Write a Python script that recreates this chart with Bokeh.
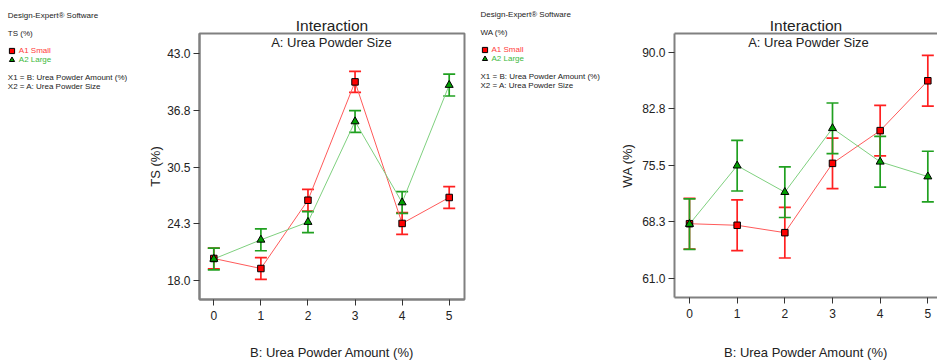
from bokeh.plotting import figure
from bokeh.models import (Range1d, FixedTicker, Label, Legend, LegendItem, Whisker, TeeHead,
                          ColumnDataSource, LinearAxis, PrintfTickFormatter)
from bokeh.core.properties import value
from bokeh.layouts import row, column
from bokeh.embed import file_html
from bokeh.resources import INLINE

# ---------------- data ----------------
X_AMOUNT = [0, 1, 2, 3, 4, 5]
X_TICK_LABELS = ["0", "1", "2", "3", "4", "5"]

TS_SMALL = [20.45, 19.35, 26.85, 39.85, 24.3, 27.15]
TS_LARGE = [20.4, 22.5, 24.45, 35.5, 26.6, 39.5]
TS_SMALL_ERR = [1.15, 1.2, 1.2, 1.15, 1.2, 1.2]
TS_LARGE_ERR = [1.2, 1.2, 1.15, 1.2, 1.2, 1.2]
TS_TICKS = [18.0, 24.25, 30.5, 36.75, 43.0]
TS_TICK_LABELS = ["18.0", "24.3", "30.5", "36.8", "43.0"]

WA_SMALL = [68.0, 67.8, 66.85, 75.75, 79.95, 86.35]
WA_LARGE = [67.95, 75.45, 72.05, 80.25, 75.95, 74.05]
WA_SMALL_ERR = [3.25, 3.25, 3.25, 3.25, 3.25, 3.25]
WA_LARGE_ERR = [3.25, 3.25, 3.25, 3.25, 3.25, 3.25]
WA_TICKS = [61.0, 68.25, 75.5, 82.75, 90.0]
WA_TICK_LABELS = ["61.0", "68.3", "75.5", "82.8", "90.0"]

SERIES_NAMES = ["A1 Small", "A2 Large"]
X_TITLE = "B: Urea Powder Amount (%)"
FACTOR_TITLE = "A: Urea Powder Size"

FONT = "Liberation Sans"
RED_LINE, GREEN_LINE = "#ff5a5a", "#7fd07f"
RED_BAR, GREEN_BAR = "#ff2020", "#20a020"
RED_FILL, GREEN_FILL = "#ff0000", "#00a000"
RED_TEXT, GREEN_TEXT = "#ff3b3b", "#3cb83c"
FRAME = "#808080"
TXT = "#222222"
H = 362


def info_panel(width, bx, lines_y, gx, gy, response, small, large):
    """Design-Expert text block; coordinates are page pixels (y measured from the top)."""
    p = figure(width=width, height=H, x_range=Range1d(0, width), y_range=Range1d(0, H),
               x_axis_type=None, y_axis_type=None, output_backend="svg",
               toolbar_location=None, title=None,
               min_border_left=0, min_border_right=0, min_border_top=0, min_border_bottom=0)
    p.outline_line_color = None
    p.grid.visible = False
    texts = ["Design-Expert\u00ae Software", response,
             "X1 = " + X_TITLE, "X2 = " + FACTOR_TITLE]
    p.text(x=[bx] * 4, y=[H - v for v in lines_y], text=texts, text_font=value(FONT),
           text_font_size=value("8px"), text_color=TXT, text_baseline="middle",
           text_align="left")
    gsz = 13
    # hidden series renderers: only their legend keys are shown in this panel
    rs = p.scatter(x=X_AMOUNT, y=small, marker="square", size=6, fill_color=RED_FILL,
                   line_color="black", line_width=1, visible=False)
    gs = p.scatter(x=X_AMOUNT, y=large, marker="triangle", size=7, fill_color=GREEN_FILL,
                   line_color="black", line_width=1, visible=False)
    for rend, name, col, gyc in ((rs, SERIES_NAMES[0], RED_TEXT, gy[0]),
                                 (gs, SERIES_NAMES[1], GREEN_TEXT, gy[1])):
        lx = gx - gsz / 2
        ly = H - (gyc - gsz / 2) - gsz
        leg = Legend(items=[LegendItem(label=name, renderers=[rend], index=0)],
                     location=(lx, ly), click_policy="none",
                     orientation="vertical", label_text_font=FONT, label_text_font_size="8px",
                     label_text_color=col, glyph_width=gsz, glyph_height=gsz,
                     label_standoff=1, label_height=9, padding=0, margin=0, spacing=0,
                     border_line_color=None, background_fill_alpha=0,
                     inactive_fill_alpha=0)
        p.add_layout(leg)
    return p


def chart(left, width, frame, xr, yr, ticks, tick_labels, small, large, serr, lerr,
          ylab, ylab_standoff, xlab_standoff, sub_pos, right_border=True):
    fl, fr, ft, fb = frame  # page pixels
    p = figure(width=width, height=H, x_range=Range1d(*xr), y_range=Range1d(*yr),
               output_backend="svg", toolbar_location=None, title="Interaction",
               min_border_left=fl - left, min_border_right=left + width - fr,
               min_border_top=ft, min_border_bottom=H - fb)
    p.background_fill_color = "white"
    p.border_fill_color = "white"
    p.grid.visible = False
    p.title.align = "center"
    p.title.text_font = FONT
    p.title.text_font_size = "15.5px"
    p.title.text_font_style = "normal"
    p.title.text_color = TXT
    p.title.standoff = 0

    ppx = (fr - fl) / (xr[1] - xr[0])
    ppy = (fb - ft) / (yr[1] - yr[0])

    p.xaxis.ticker = FixedTicker(ticks=X_AMOUNT)
    p.xaxis.major_label_overrides = dict(zip(X_AMOUNT, X_TICK_LABELS))
    p.yaxis.ticker = FixedTicker(ticks=ticks)
    p.yaxis.formatter = PrintfTickFormatter(format="%.1f")
    p.yaxis.major_label_overrides = dict(zip(ticks, tick_labels))
    for ax in (p.xaxis, p.yaxis):
        ax.axis_line_color = FRAME
        ax.axis_line_width = 2
        ax.major_tick_line_color = "#333333"
        ax.major_tick_in = 0
        ax.major_tick_out = 6
        ax.minor_tick_line_color = None
        ax.major_label_text_font = FONT
        ax.major_label_text_font_size = "12px"
        ax.major_label_text_color = TXT
        ax.axis_label_text_font = FONT
        ax.axis_label_text_font_size = "13px"
        ax.axis_label_text_font_style = "normal"
        ax.axis_label_text_color = TXT
    p.xaxis.major_label_standoff = 5
    p.yaxis.major_label_standoff = 3
    p.xaxis.axis_label = X_TITLE
    p.xaxis.axis_label_standoff = xlab_standoff
    p.yaxis.axis_label = ylab
    p.yaxis.axis_label_standoff = ylab_standoff

    if right_border:
        p.outline_line_color = FRAME
        p.outline_line_width = 2
    else:
        p.outline_line_color = None
        top = LinearAxis(ticker=FixedTicker(ticks=[]), axis_line_color=FRAME, axis_line_width=2,
                         major_tick_line_color=None, minor_tick_line_color=None,
                         major_label_text_font_size="0px")
        p.add_layout(top, "above")

    for vals, errs, col in ((small, serr, RED_BAR), (large, lerr, GREEN_BAR)):
        src = ColumnDataSource(dict(x=X_AMOUNT,
                                    upper=[v + e for v, e in zip(vals, errs)],
                                    lower=[v - e for v, e in zip(vals, errs)]))
        p.add_layout(Whisker(source=src, base="x", upper="upper", lower="lower",
                             line_color=col, line_width=1.7,
                             upper_head=TeeHead(size=12, line_color=col, line_width=1.7),
                             lower_head=TeeHead(size=12, line_color=col, line_width=1.7)))

    p.line(X_AMOUNT, small, line_color=RED_LINE, line_width=1)
    p.line(X_AMOUNT, large, line_color=GREEN_LINE, line_width=1)
    p.scatter(X_AMOUNT, small, marker="square", size=6.5, fill_color=RED_FILL,
              line_color="black", line_width=1)
    p.scatter(X_AMOUNT, large, marker="triangle", size=8, fill_color=GREEN_FILL,
              line_color="black", line_width=1)

    sx = xr[0] + (sub_pos[0] - fl) / ppx
    sy = yr[0] + (fb - sub_pos[1]) / ppy
    p.add_layout(Label(x=sx, y=sy, text=FACTOR_TITLE, text_font=FONT, text_font_size="13px",
                       text_color=TXT, text_align="center", text_baseline="middle"))
    return p


t1 = info_panel(145, 7.3, [15, 32.7, 76.7, 85.7], 11.3, (50, 59.3), "TS (%)",
                TS_SMALL, TS_LARGE)
p1 = chart(145, 328, (199, 464, 33, 299), (-0.304, 5.325), (15.946, 45.164),
           TS_TICKS, TS_TICK_LABELS, TS_SMALL, TS_LARGE, TS_SMALL_ERR, TS_LARGE_ERR,
           "TS (%)", 1, 22, (331, 42.3))
t2 = info_panel(142, 7, [14, 31.7, 76, 85], 11, (49.3, 58.7), "WA (%)",
                WA_SMALL, WA_LARGE)
p2 = chart(615, 322, (674, 937, 33, 303), (-0.3147, 5.203), (58.527, 92.42),
           WA_TICKS, WA_TICK_LABELS, WA_SMALL, WA_LARGE, WA_SMALL_ERR, WA_LARGE_ERR,
           "WA (%)", 4, 24, (808, 41.7), right_border=False)

layout = row(column(t1), column(p1), column(t2), column(p2), spacing=0)
open("out.html", "w").write(file_html(layout, INLINE))
